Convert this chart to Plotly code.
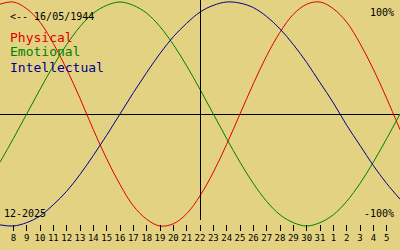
import plotly.graph_objects as go

# Day positions (7 = 7 Dec 2025 ... 37 = 6 Jan 2026), "today" = 22
days = [7, 8, 9, 10, 11, 12, 13, 14, 15, 16, 17, 18, 19, 20, 21, 22,
        23, 24, 25, 26, 27, 28, 29, 30, 31, 32, 33, 34, 35, 36, 37]

physical = [0.98, 1.00, 0.94, 0.82, 0.63, 0.40, 0.14, -0.14, -0.40, -0.63, -0.82,
            -0.94, -1.00, -0.98, -0.89, -0.73, -0.52, -0.27, 0.00, 0.27, 0.52,
            0.73, 0.89, 0.98, 1.00, 0.94, 0.82, 0.63, 0.40, 0.14, -0.14]

emotional = [-0.43, -0.22, 0.00, 0.22, 0.43, 0.62, 0.78, 0.90, 0.97, 1.00, 0.97,
             0.90, 0.78, 0.62, 0.43, 0.22, 0.00, -0.22, -0.43, -0.62, -0.78,
             -0.90, -0.97, -1.00, -0.97, -0.90, -0.78, -0.62, -0.43, -0.22, 0.00]

intellectual = [-0.99, -1.00, -0.97, -0.91, -0.81, -0.69, -0.54, -0.37, -0.19, 0.00, 0.19,
                0.37, 0.54, 0.69, 0.81, 0.91, 0.97, 1.00, 0.99, 0.95, 0.87,
                0.76, 0.62, 0.46, 0.28, 0.10, -0.10, -0.28, -0.46, -0.62, -0.76]

tick_vals = [8, 9, 10, 11, 12, 13, 14, 15, 16, 17, 18, 19, 20, 21, 22, 23, 24, 25,
             26, 27, 28, 29, 30, 31, 32, 33, 34, 35, 36]
tick_labels = ["8", "9", "10", "11", "12", "13", "14", "15", "16", "17", "18", "19",
               "20", "21", "22", "23", "24", "25", "26", "27", "28", "29", "30", "31",
               "1", "2", "3", "4", "5"]

today = 22
birth_label = "<-- 16/05/1944"
month_label = "12-2025"
series_names = ["Physical", "Emotional", "Intellectual"]
series_colors = ["#e00000", "#008000", "#00008c"]

BG = "#e2d282"
W, H = 400, 250
X_RANGE = [7, 37]
FONT = "DejaVu Sans Mono"

fig = go.Figure()
for name, vals, col in zip(series_names, [physical, emotional, intellectual], series_colors):
    fig.add_trace(go.Scatter(x=days, y=vals, mode="lines", name=name,
                             line=dict(color=col, width=1, shape="spline"),
                             hoverinfo="skip"))

def px(x):
    return x / W

def py(y):
    return 1 - y / H

# today line (half-pixel nudge so the 1px line lands on a single pixel column)
half_px = 0.5 * (X_RANGE[1] - X_RANGE[0]) / W
fig.add_shape(type="line", xref="x", yref="paper", x0=today + half_px, x1=today + half_px,
              y0=py(220), y1=1, line=dict(color="black", width=1))

annos = []
annos.append(dict(text=birth_label, x=px(8), y=py(16.5), font=dict(color="black", size=10), xanchor="left"))
for i, (name, col) in enumerate(zip(series_names, series_colors)):
    annos.append(dict(text=name, x=px(8), y=py(37 + 15 * i), font=dict(color=col, size=13), xanchor="left"))
annos.append(dict(text="100%", x=px(396), y=py(12), font=dict(color="black", size=10), xanchor="right"))
annos.append(dict(text="-100%", x=px(396), y=py(213.5), font=dict(color="black", size=10), xanchor="right"))
annos.append(dict(text=month_label, x=px(2), y=py(213.5), font=dict(color="black", size=10), xanchor="left"))

for a in annos:
    a.update(xref="paper", yref="paper", showarrow=False, yanchor="middle")
    a["font"]["family"] = FONT

fig.update_layout(
    width=W, height=H,
    margin=dict(l=0, r=0, t=0, b=0),
    paper_bgcolor=BG, plot_bgcolor=BG,
    showlegend=False,
    annotations=annos,
    font=dict(family=FONT),
    xaxis=dict(range=X_RANGE, tickvals=tick_vals, ticktext=tick_labels,
               ticks="inside", ticklen=6, tickcolor="black", tickwidth=1,
               showgrid=False, zeroline=False, showline=False,
               anchor="free", position=(H - 231) / H,
               tickfont=dict(family=FONT, size=9, color="black"),
               fixedrange=True),
    yaxis=dict(range=[-1.2143, 1.01786], showgrid=False, showticklabels=False,
               zeroline=True, zerolinecolor="black", zerolinewidth=1,
               showline=False, ticks="", fixedrange=True),
)

fig.write_html("out.html", config={"displayModeBar": False})
